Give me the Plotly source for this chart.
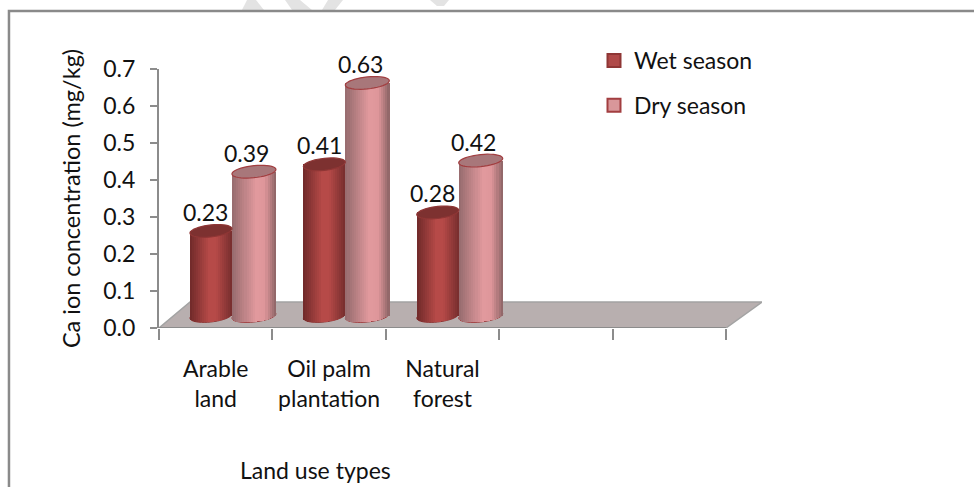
import numpy as np
import plotly.graph_objects as go

categories = ["Arable<br>land", "Oil palm<br>plantation", "Natural<br>forest"]
wet_season = [0.23, 0.41, 0.28]
dry_season = [0.39, 0.63, 0.42]
y_ticks = [0.0, 0.1, 0.2, 0.3, 0.4, 0.5, 0.6, 0.7]
n_slots = 5

FONT = "Lato"
FS = 23
TXT = "#111111"
GRAY = "#8c8c8c"

# geometry in axis units
X_UNIT = 113.4
Y_UNIT = 370.0
DEPTH_XL = 31 / X_UNIT
DEPTH_XR = 36 / X_UNIT
DEPTH_Y = 26 / Y_UNIT
BASE = 12 / Y_UNIT
CAP_B = 6 / Y_UNIT
CAP_TILT = 2.2 / Y_UNIT


def shade(stops, t):
    ts, cs = zip(*stops)
    arr = np.array(cs, float)
    return "rgb(%d,%d,%d)" % tuple(np.interp(t, ts, arr[:, k]) for k in range(3))


wet_stops = [(0, (112, 42, 42)), (0.45, (182, 74, 72)), (0.62, (182, 74, 72)), (1, (118, 46, 46))]
dry_stops = [(0, (150, 108, 110)), (0.55, (226, 154, 158)), (0.75, (222, 150, 154)), (1, (140, 100, 102))]

series = [
    dict(name="Wet season", vals=wet_season, off=0.273, w=0.370, stops=wet_stops,
         cap="#7d3130", edge="#8f3635", swatch="#b04a49", dx=-5),
    dict(name="Dry season", vals=dry_season, off=0.643, w=0.388, stops=dry_stops,
         cap="#a8777a", edge="#a23e40", swatch="#d9979a", dx=-7),
]


def ellipse(cx, cy, a):
    t = np.linspace(0, 2 * np.pi, 41)
    xs = cx + a * np.cos(t)
    ys = cy + CAP_B * np.sin(t) + CAP_TILT * np.cos(t)
    return "M" + "L".join(f"{x:.4f},{y:.5f}" for x, y in zip(xs, ys)) + "Z"


def px(x):
    return (x - 159) / 603


def py(y):
    return (328 - y) / 259


fig = go.Figure()
shapes = []
annotations = []

# background watermark fragments above the chart frame
for poly in ([(247, 0), (256, 0), (264, 10), (242, 10)],
             ((285, 0), (300, 0), (312, 10), (292, 10)),
             ((328, 0), (343, 0), (335, 10), (322, 10)),
             ((430, 0), (449, 0), (444, 6), (437, 6))):
    path = "M" + "L".join(f"{px(a):.4f},{py(b):.4f}" for a, b in poly) + "Z"
    shapes.append(dict(type="path", xref="paper", yref="paper", layer="below", path=path,
                       fillcolor="#e3e3e3", line=dict(width=0)))

# chart frame: the left and top edges are inside the picture
shapes.append(dict(type="path", xref="paper", yref="paper", layer="below",
                   path=f"M{px(9):.4f},{py(520):.4f}L{px(9):.4f},{py(11):.4f}L{px(1000):.4f},{py(11):.4f}",
                   line=dict(color="#8a8a8a", width=2.5), fillcolor="rgba(0,0,0,0)"))
# floor
shapes.append(dict(type="path", xref="x", yref="y", layer="below",
                   path=f"M0,0L{n_slots},0L{n_slots + DEPTH_XR},{DEPTH_Y}L{DEPTH_XL},{DEPTH_Y}Z",
                   line=dict(color="#a3a3a3", width=1.5), fillcolor="#b8afaf"))

N = 21
for s in series:
    xc = [i + s["off"] + s["w"] / 2 for i in range(len(categories))]
    a = s["w"] / 2
    vals = np.array(s["vals"])
    for c, v in zip(xc, s["vals"]):
        shapes.append(dict(type="path", xref="x", yref="y", layer="below",
                           path=ellipse(c, BASE, a),
                           fillcolor=s["edge"], line=dict(color=s["edge"], width=1)))
        shapes.append(dict(type="path", xref="x", yref="y", layer="above",
                           path=ellipse(c, BASE + v, a),
                           fillcolor=s["cap"], line=dict(color=s["edge"], width=1.2)))
        annotations.append(dict(x=c, y=BASE + v, xref="x", yref="y", text=f"{v:.2f}",
                                showarrow=False, xshift=s["dx"], yshift=19,
                                font=dict(family=FONT, size=FS, color=TXT)))
    # cylinder body: vertical strips of the same bars, following the rounded base
    for k in range(N):
        t = (k + 0.5) / N
        u = 2 * t - 1
        dy = -CAP_B * np.sqrt(1 - u * u) + CAP_TILT * u
        fig.add_trace(go.Bar(
            x=xc, y=vals - dy, base=BASE + dy,
            width=s["w"] / N * 1.15,
            offset=-a + k * s["w"] / N,
            marker=dict(color=shade(s["stops"], t), line=dict(width=0)),
            showlegend=False, hoverinfo="skip"))
    fig.add_trace(go.Scatter(
        x=[None], y=[None], mode="markers", name=s["name"], legendgroup=s["name"],
        marker=dict(symbol="square", size=13, color=s["swatch"], line=dict(color=s["edge"], width=2))))

# category axis line
fig.add_trace(go.Scatter(x=[0, n_slots], y=[0, 0], mode="lines", cliponaxis=False,
                         line=dict(color=GRAY, width=2), showlegend=False, hoverinfo="skip"))

annotations.append(dict(x=(315 - 159) / X_UNIT, y=py(486), xref="x", yref="paper", yanchor="bottom",
                        text="Land use types", showarrow=False,
                        font=dict(family=FONT, size=FS, color=TXT)))

fig.update_layout(
    width=974, height=487,
    margin=dict(l=159, r=212, t=69, b=159, autoexpand=False),
    paper_bgcolor="white", plot_bgcolor="rgba(0,0,0,0)",
    barmode="overlay", bargap=0,
    font=dict(family=FONT, size=FS, color=TXT),
    shapes=shapes, annotations=annotations,
    legend=dict(x=0.733, y=1.116, xanchor="left", yanchor="top", bgcolor="rgba(0,0,0,0)",
                tracegroupgap=12, indentation=-7, font=dict(family=FONT, size=FS, color=TXT)),
    xaxis=dict(range=[0, n_slots + DEPTH_XR], showgrid=False, zeroline=False, showline=False,
               tickmode="array", tickvals=[i + 0.5 for i in range(len(categories))],
               ticktext=categories, ticks="outside", ticklen=20, tickcolor="rgba(0,0,0,0)",
               tickangle=0,
               minor=dict(tickmode="array", tickvals=list(range(n_slots + 1)), ticks="outside",
                          ticklen=11, tickwidth=2, tickcolor=GRAY, showgrid=False)),
    yaxis=dict(range=[0, 0.7], showgrid=False, zeroline=False, showline=True, linecolor=GRAY, linewidth=2,
               tickmode="array", tickvals=y_ticks, ticktext=[f"{v:.1f}" for v in y_ticks],
               ticks="outside", ticklen=7, tickwidth=2, tickcolor=GRAY, ticklabelstandoff=10,
               title=dict(text="Ca ion concentration (mg/kg)", standoff=16,
                          font=dict(family=FONT, size=23.5, color=TXT))),
)

fig.write_html("out.html", post_script="document.body.style.margin='0';",
               config={"displayModeBar": False})
